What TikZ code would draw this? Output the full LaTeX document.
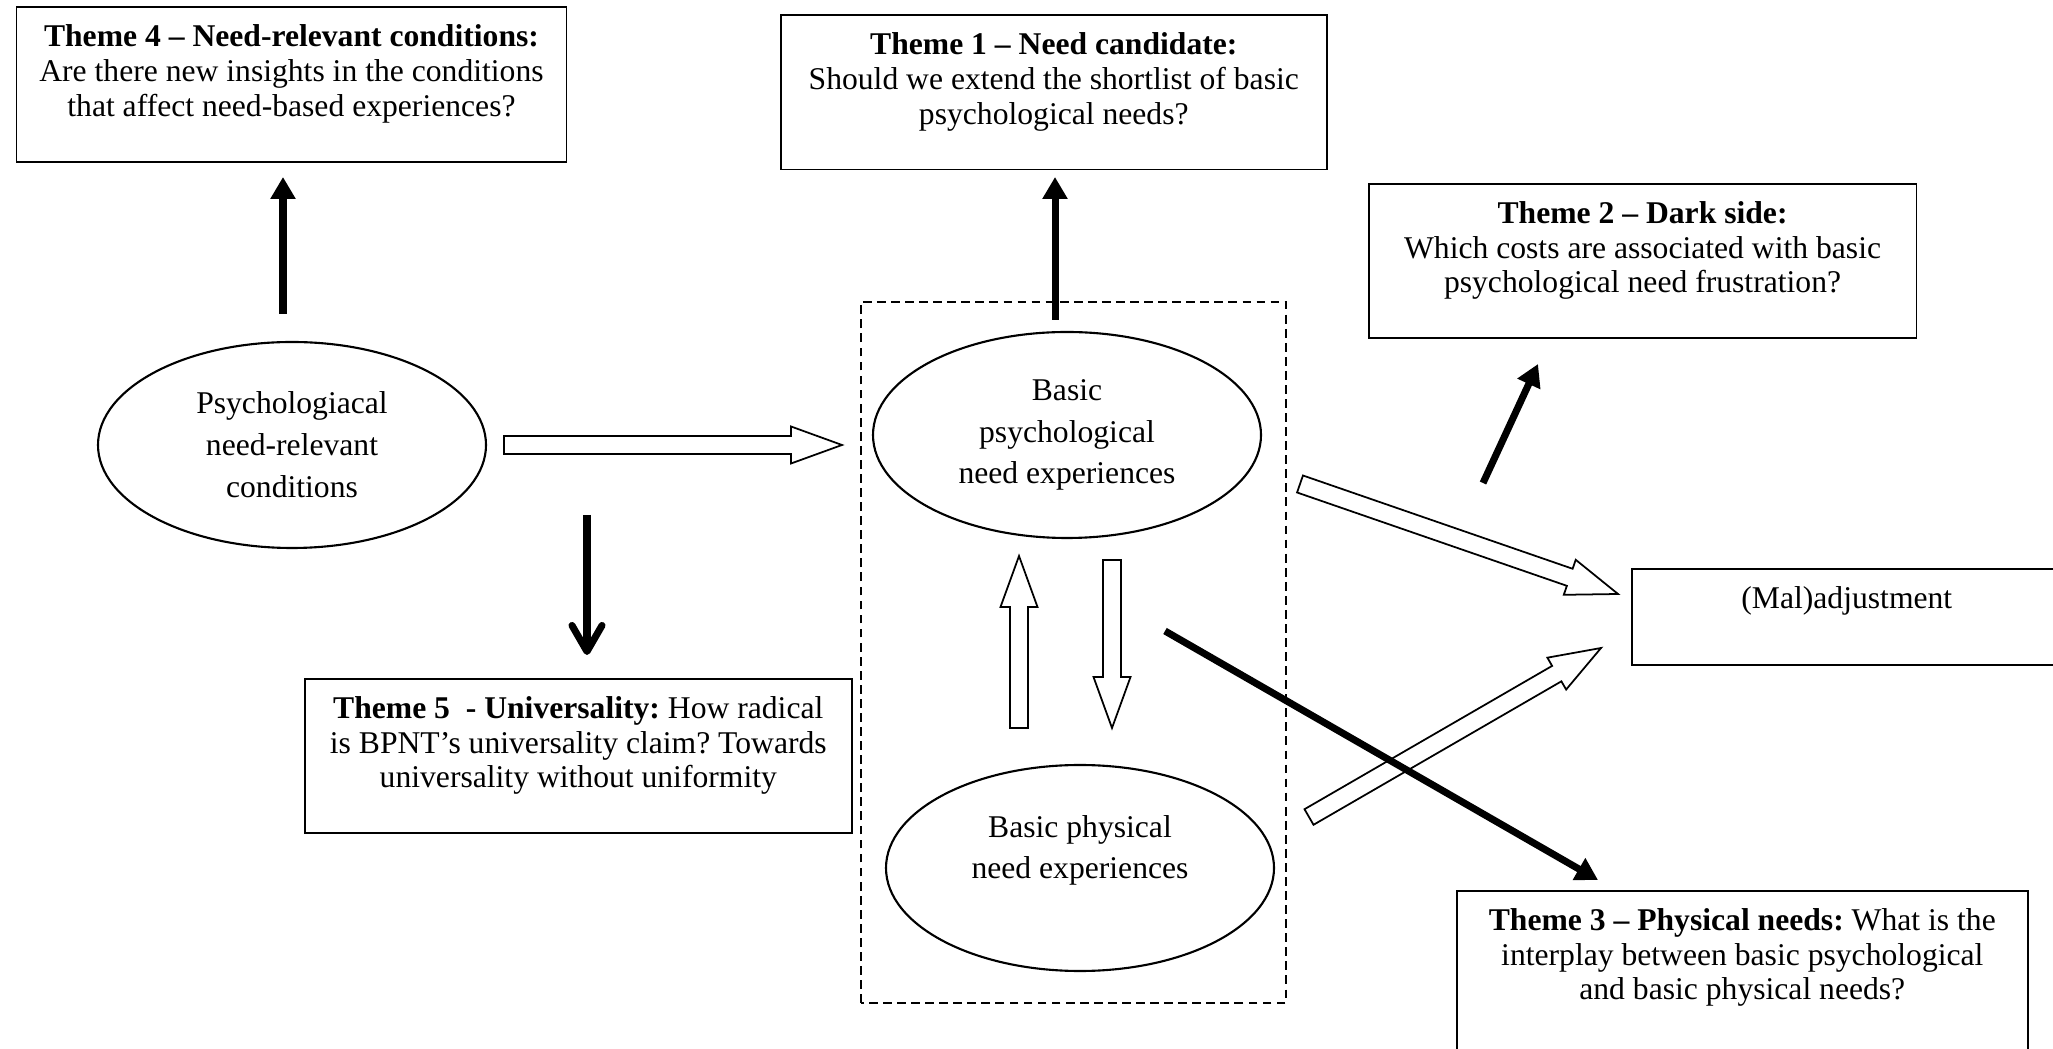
\documentclass[tikz,border=0pt]{standalone}
\usepackage{fontspec}
\setmainfont{Liberation Serif}
\frenchspacing
\usetikzlibrary{arrows.meta}
\usetikzlibrary{calc}
\usetikzlibrary{shapes.geometric}

\newcommand{\blockarrow}[2]{%
  \draw[hollow] let \p1=($(#2)-(#1)$), \n1={atan2(\y1,\x1)}, \n2={veclen(\x1,\y1)-14.5} in
    ($(#1)+(\n1+90:0.09)$) -- ++(\n1:\n2) -- ++(\n1+90:0.095) -- (#2)
    -- ($(#2)+(\n1+180:0.51)+(\n1-90:0.185)$) -- ++(\n1+90:0.095)
    -- ($(#1)+(\n1-90:0.09)$) -- cycle;}

\begin{document}
\begin{tikzpicture}[
    theme/.style={draw, line width=0.45pt, align=center, anchor=north west, inner xsep=2pt, inner ysep=5pt, font=\fontsize{9}{9.9}\selectfont},
    need/.style={ellipse, draw, line width=0.6pt, align=center, inner sep=0pt, minimum width=3.88cm, minimum height=2.06cm, font=\fontsize{9}{11.9}\selectfont},
    link/.style={line width=2pt, -{Triangle[length=2.2mm, width=2.4mm]}},
    hollow/.style={draw, fill=white, line width=0.5pt, line join=miter},
  ]
      \useasboundingbox (0,0) rectangle (20.53,10.48);
      \clip (0,0) rectangle (20.53,10.48);

      \draw[dash pattern=on 2.5pt off 1.5pt, line width=0.4pt] (8.61,0.45) rectangle (12.86,7.46);

      \node[need] (cond) at (2.92,6.03) {Psychologiacal\\need-relevant\\conditions};
      \node[need] (psy) at (10.67,6.13) {Basic\\psychological\\need experiences};
      \node[need] (phy) at (10.80,1.80) {Basic physical\\need experiences\\\mbox{}};

      \node[theme, minimum width=5.50cm] (t4) at (0.157,10.415) {\textbf{Theme 4 – Need-relevant conditions:}\\Are there new insights in the conditions\\that affect need-based experiences?\\[-2pt]\mbox{}};
      \node[theme, minimum width=5.46cm] (t1) at (7.80,10.336) {\textbf{Theme 1 – Need candidate:}\\Should we extend the shortlist of basic\\psychological needs?\\[-2pt]\mbox{}};
      \node[theme, minimum width=5.475cm] (t2) at (13.68,8.65) {\textbf{Theme 2 – Dark side:}\\Which costs are associated with basic\\psychological need frustration?\\[-2pt]\mbox{}};
      \node[theme, minimum width=5.47cm] (t5) at (3.04,3.70) {\textbf{Theme 5\ \ - Universality:} How radical\\is BPNT’s universality claim? Towards\\universality without uniformity\\[-2pt]\mbox{}};
      \node[theme, minimum width=5.71cm] (t3) at (14.56,1.58) {\textbf{Theme 3 – Physical needs:} What is the\\interplay between basic psychological\\and basic physical needs?\\[6pt]\mbox{}};
      \node[theme, minimum width=4.30cm] (mal) at (16.31,4.80) {(Mal)adjustment\\[1.3pt]\mbox{}};

      \coordinate (h1a) at (5.04,6.03);
      \coordinate (h1b) at (8.42,6.03);
      \coordinate (h2a) at (10.19,3.20);
      \coordinate (h2b) at (10.19,4.92);
      \coordinate (h3a) at (11.12,4.88);
      \coordinate (h3b) at (11.12,3.20);
      \coordinate (h4a) at (13.00,5.64);
      \coordinate (h4b) at (16.18,4.54);
      \coordinate (h5a) at (13.09,2.31);
      \coordinate (h5b) at (16.01,4.00);

      \blockarrow{h1a}{h1b}
      \blockarrow{h2a}{h2b}
      \blockarrow{h3a}{h3b}
      \blockarrow{h4a}{h4b}
      \blockarrow{h5a}{h5b}

      \coordinate (c4a) at (2.83,7.34);
      \coordinate (c4b) at (2.83,8.71);
      \coordinate (c1a) at (10.55,7.28);
      \coordinate (c1b) at (10.55,8.71);
      \coordinate (c2a) at (14.83,5.65);
      \coordinate (c2b) at (15.38,6.84);
      \coordinate (c3a) at (11.65,4.17);
      \coordinate (c3b) at (15.98,1.68);
      \coordinate (c5a) at (5.87,5.33);
      \coordinate (c5b) at (5.87,3.93);

      \draw[link] (c4a) -- (c4b);
      \draw[link] (c1a) -- (c1b);
      \draw[link] (c2a) -- (c2b);
      \draw[link] (c3a) -- (c3b);
      \draw[line width=2pt, -{Straight Barb[length=2.6mm, width=3mm, round]}] (c5a) -- (c5b);
    \end{tikzpicture}
\end{document}
